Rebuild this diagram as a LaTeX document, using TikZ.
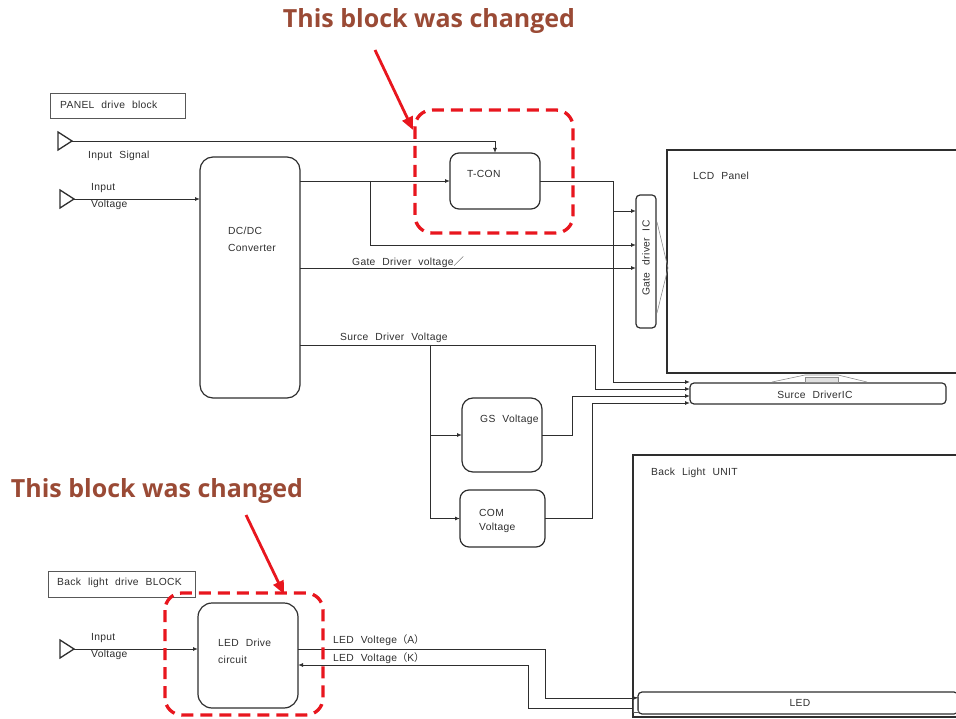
\documentclass[tikz,border=0pt]{standalone}
\usepackage{fontspec}
\setmainfont{Liberation Sans}
\newfontfamily\smallfont[LetterSpace=3]{Liberation Sans}
\newfontfamily\jpfont{Noto Sans CJK JP}
\newfontfamily\notefont{Open Sans}
\usetikzlibrary{arrows.meta}
\definecolor{note}{HTML}{9A4A35}
\definecolor{ink}{HTML}{2E2E2E}
\definecolor{redd}{HTML}{E8161E}
\newcommand{\gp}{\hspace{7pt}}
\begin{document}
\begin{tikzpicture}[x=1pt,y=-1pt,
  box/.style={draw=ink, line width=1.2pt, rounded corners=#1, inner sep=0pt, outer sep=0pt},
  box/.default=9pt,
  plain/.style={draw=ink!80, line width=0.9pt, inner sep=0pt, outer sep=0pt},
  wire/.style={draw=ink, line width=0.9pt},
  arr/.style={wire, -{Latex[length=5pt,width=4pt]}},
  lbl/.style={font=\smallfont\fontsize{10.3}{12}\selectfont, text=ink, inner sep=0pt, anchor=west},
  port/.style={draw=ink, line width=1.3pt, line join=miter},
  chg/.style={draw=redd, line width=3.3pt, dash pattern=on 12pt off 7pt, rounded corners=17pt},
  red arrow/.style={draw=redd, line width=2.8pt, -{Triangle[length=13pt,width=11pt]}},
  note text/.style={font=\notefont\bfseries\fontsize{25}{28}\selectfont, text=note, inner sep=0pt},
  faint/.style={draw=ink!55, line width=0.6pt}
]
\useasboundingbox (0,0) rectangle (956,719);

% ---------- boxes ----------
\node[plain, minimum width=135pt, minimum height=25pt] (panelbox) at (117.5,105.5) {};
\node[lbl] (paneltxt) at (60,105) {PANEL\gp drive\gp block};

\node[box=13pt, minimum width=100pt, minimum height=241pt] (dcdc) at (250,277.5) {};
\node[lbl] (dcdct1) at (228,231) {DC/DC};
\node[lbl] (dcdct2) at (228,248) {Converter};

\node[box=9pt, minimum width=90pt, minimum height=56pt] (tcon) at (495,181) {};
\node[lbl] (tcont) at (467,174) {T-CON};

\node[box=4pt, minimum width=20pt, minimum height=133pt] (gate) at (646,261.5) {};
\node[lbl, anchor=center, rotate=90] (gatet) at (646,258) {Gate\gp driver\gp IC};

\node[plain, draw=ink, line width=1.3pt, minimum width=300pt, minimum height=223pt] (lcd) at (817,261.5) {};
\node[lbl] (lcdt) at (693,176) {LCD\gp Panel};

\node[box=4pt, minimum width=256pt, minimum height=21pt] (src) at (818,393.5) {};
\node[lbl, anchor=center] (srct) at (815,395) {Surce\gp DriverIC};

\node[box=11pt, minimum width=80pt, minimum height=74pt] (gs) at (502,435) {};
\node[lbl] (gst) at (480,420) {GS\gp Voltage};

\node[box=9pt, minimum width=85pt, minimum height=57pt] (com) at (502.5,518.5) {};
\node[lbl] (comt1) at (479,513) {COM};
\node[lbl] (comt2) at (479,528) {Voltage};

\node[plain, draw=ink, line width=1.3pt, minimum width=330pt, minimum height=262pt] (blu) at (798,586) {};
\node[lbl] (blut) at (651,473) {Back\gp Light\gp UNIT};

\node[box=4pt, minimum width=320pt, minimum height=22pt] (led) at (798,703) {};
\node[lbl, anchor=center] (ledt) at (800,703) {LED};
\node[plain, minimum width=5pt, minimum height=15pt] (ledpin) at (635.5,704.5) {};

\node[plain, minimum width=147pt, minimum height=26pt] (blbox) at (121.5,584) {};
\node[lbl] (bltxt) at (57,583) {Back\gp light\gp drive\gp BLOCK};

\node[box=14pt, minimum width=100pt, minimum height=105pt] (ledd) at (248,655.5) {};
\node[lbl] (leddt1) at (218,643) {LED\gp Drive};
\node[lbl] (leddt2) at (218,660) {circuit};

% ---------- input ports ----------
\draw[port] (58,132) -- (72,141) -- (58,150) -- cycle;
\coordinate (in1) at (72,141);
\draw[port] (60,190) -- (74,199) -- (60,208) -- cycle;
\coordinate (in2) at (74,199);
\draw[port] (60,640) -- (74,649) -- (60,658) -- cycle;
\coordinate (in3) at (74,649);

\node[lbl] (insig) at (88,156) {Input\gp Signal};
\node[lbl] (inv1) at (91,188) {Input};
\node[lbl] (inv2) at (91,205) {Voltage};
\node[lbl] (inv3) at (91,638) {Input};
\node[lbl] (inv4) at (91,655) {Voltage};

% ---------- connector coordinates ----------
\coordinate (b1) at (370,181);
\coordinate (y245) at (0,245);
\coordinate (tc) at (613,382);
\coordinate (tb) at (613,211);
\coordinate (g3) at (0,268);
\coordinate (s0) at (0,345);
\coordinate (s1) at (595,389);
\coordinate (sb) at (430,345);
\coordinate (g2) at (572,396);
\coordinate (c2) at (592,403);
\coordinate (la) at (0,649);
\coordinate (la2) at (545,698);
\coordinate (lk2) at (0,708);
\coordinate (lk1) at (528,665);

% ---------- connectors ----------
\draw[arr] (in1) -| (tcon.north);
\draw[arr] (in2) -- (dcdc.west |- in2);
\draw[arr] (dcdc.east |- tcon.west) -- (tcon.west);
\draw[arr] (b1) |- (gate.west |- y245);
\draw[arr] (tcon.east) -| (tc) -- (src.west |- tc);
\draw[arr] (tb) -- (gate.west |- tb);
\draw[arr] (dcdc.east |- g3) -- (gate.west |- g3);
\draw[arr] (dcdc.east |- s0) -| (s1) -- (src.west |- s1);
\draw[arr] (sb) |- (gs.west);
\draw[arr] (sb) |- (com.west);
\draw[arr] (gs.east) -| (g2) -- (src.west |- g2);
\draw[arr] (com.east) -| (c2) -- (src.west |- c2);

\draw[arr] (in3) -- (ledd.west |- in3);
\draw[arr] (ledd.east |- la) -| (la2) -- (led.west |- la2);
\draw[arr] (ledpin.west |- lk2) -| (lk1) -- (ledd.east |- lk1);

\node[lbl] (gdv) at (352,262) {Gate\gp Driver\gp voltage{\jpfont ／}};
\node[lbl] (sdv) at (340,338) {Surce\gp Driver\gp Voltage};
\node[lbl] (lva) at (333,640) {LED\gp Voltege{\jpfont （}A{\jpfont ）}};
\node[lbl] (lvk) at (333,658) {LED\gp Voltage{\jpfont （}K{\jpfont ）}};

% ---------- decorations ----------
\draw[faint] (657,222) -- (668,268) -- (657,313);
\draw[faint] (772,382) -- (805,375) -- (838,375) -- (867,382);
\draw[faint, fill=ink!15] (805,377) rectangle (838,382);

% ---------- change markers ----------
\draw[chg] (415,110) rectangle (573,233);
\draw[chg] (165,593) rectangle (323,715);
\coordinate (ra1) at (375,50);
\coordinate (ra2) at (413,130);
\coordinate (rb1) at (246,515);
\coordinate (rb2) at (284,594);
\draw[red arrow] (ra1) -- (ra2);
\draw[red arrow] (rb1) -- (rb2);
\node[note text] (note1) at (429,21) {This block was changed};
\node[note text] (note2) at (157,491) {This block was changed};
\end{tikzpicture}
\end{document}
